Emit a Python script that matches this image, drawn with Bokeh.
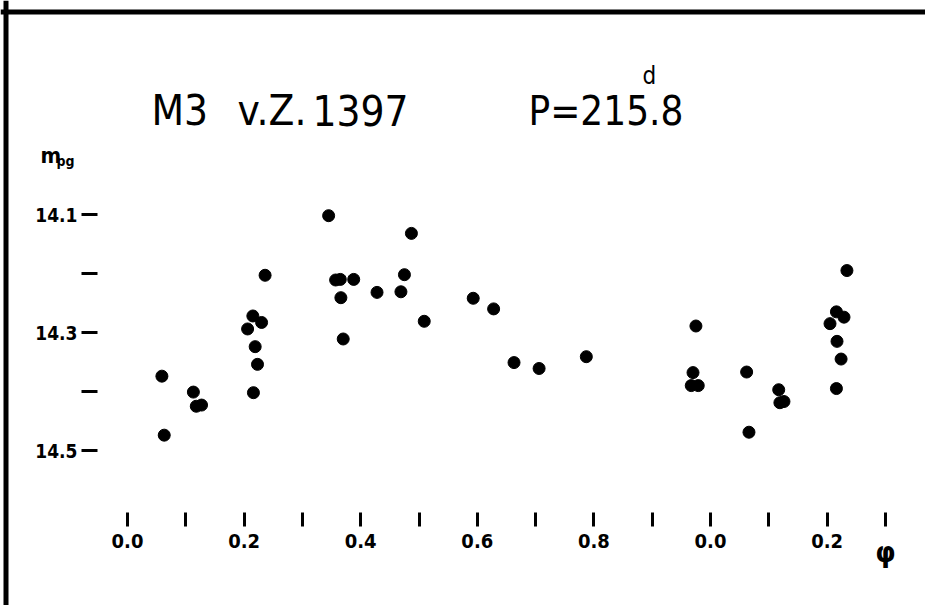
from bokeh.plotting import figure
from bokeh.models import Range1d, FixedTicker, Label, Span
from bokeh.embed import file_html
from bokeh.resources import INLINE

# ---- data (phase, photographic magnitude) ----
phase = [0.059, 0.063, 0.113, 0.118, 0.127, 0.206, 0.215, 0.216, 0.219, 0.223,
         0.230, 0.236, 0.345, 0.357, 0.365, 0.366, 0.370, 0.388, 0.428, 0.469,
         0.475, 0.487, 0.509, 0.593, 0.628, 0.663, 0.706, 0.787, 0.967, 0.970,
         0.975, 0.979, 1.062, 1.066, 1.117, 1.119, 1.126, 1.205, 1.216, 1.216,
         1.217, 1.224, 1.229, 1.234]
mag = [14.374, 14.474, 14.401, 14.425, 14.423, 14.294, 14.272, 14.402, 14.324, 14.354,
       14.283, 14.203, 14.102, 14.211, 14.210, 14.241, 14.311, 14.210, 14.232, 14.231,
       14.202, 14.132, 14.281, 14.242, 14.260, 14.351, 14.361, 14.341, 14.390, 14.368,
       14.289, 14.390, 14.367, 14.469, 14.397, 14.419, 14.417, 14.285, 14.265, 14.395,
       14.315, 14.345, 14.274, 14.195]

x_ticks = [0.0, 0.1, 0.2, 0.3, 0.4, 0.5, 0.6, 0.7, 0.8, 0.9, 1.0, 1.1, 1.2, 1.3]
x_labels = ["0.0", "", "0.2", "", "0.4", "", "0.6", "", "0.8", "", "0.0", "", "0.2", ""]
y_ticks = [14.1, 14.2, 14.3, 14.4, 14.5]
y_labels = ["14.1", "", "14.3", "", "14.5"]
x_axis_symbol = "φ"

title_star = "M3"
title_name = "v.Z."
title_number = "1397"
title_period = "P=215.8"
title_sup = "d"

FONT = "DejaVu Sans Condensed"

# page-pixel -> data helpers (for placement of axes / texts only)
def px_x(px):
    return (px - 127.0) / 583.0

def px_y(py):
    return 14.1 + (py - 214.0) / 590.0

W, H = 925, 605
p = figure(width=W, height=H, output_backend="svg", toolbar_location=None,
           x_range=Range1d(px_x(0), px_x(W)),
           y_range=Range1d(px_y(H), px_y(0)),
           min_border=0)
p.outline_line_color = None
p.grid.visible = False
p.background_fill_color = "white"
p.border_fill_color = "white"

# x axis, drawn at a fixed place inside the canvas
xa = p.xaxis[0]
xa.fixed_location = px_y(512)
xa.ticker = FixedTicker(ticks=x_ticks)
xa.major_label_overrides = dict(zip(x_ticks, x_labels))
xa.axis_line_color = None
xa.major_tick_in = 0
xa.major_tick_out = 14
xa.major_tick_line_width = 3
xa.major_tick_line_color = "black"
xa.minor_tick_line_color = None
xa.major_label_standoff = 7
xa.major_label_text_font = FONT
xa.major_label_text_font_style = "bold"
xa.major_label_text_font_size = "20px"
xa.major_label_text_color = "black"

# y axis
ya = p.yaxis[0]
ya.fixed_location = px_x(97)
ya.ticker = FixedTicker(ticks=y_ticks)
ya.major_label_overrides = dict(zip(y_ticks, y_labels))
ya.axis_line_color = None
ya.major_tick_in = 0
ya.major_tick_out = 16
ya.major_tick_line_width = 3
ya.major_tick_line_color = "black"
ya.minor_tick_line_color = None
ya.major_label_standoff = 4
ya.major_label_text_font = FONT
ya.major_label_text_font_style = "bold"
ya.major_label_text_font_size = "19px"
ya.major_label_text_color = "black"
ya.major_label_orientation = "horizontal"

# points
p.scatter(phase, mag, size=12, color="black", line_color="black")

# frame border (scan edge)
p.add_layout(Span(location=px_x(5.5), dimension="height", line_color="black", line_width=5))
p.add_layout(Span(location=px_y(11.5), dimension="width", line_color="black", line_width=5))

# texts
def lab(xp, yp, text, size, style="normal", align="left"):
    p.add_layout(Label(x=px_x(xp), y=px_y(yp), text=text, text_font=FONT,
                       text_font_size=size, text_font_style=style, text_color="black",
                       text_baseline="alphabetic", text_align=align))

lab(151, 110, title_star, "42px")
lab(237, 110, title_name, "42px")
lab(312, 110, title_number, "42px")
lab(528, 110, title_period, "40px")
lab(642, 75, title_sup, "24px")
lab(40, 155, "m", "22px", "bold")
lab(56, 160, "pg", "14px", "bold")
# phase symbol under the last x tick
p.add_layout(Label(x=x_ticks[-1], y=px_y(551), text=x_axis_symbol, text_font=FONT,
                   text_font_size="29px", text_font_style="bold", text_color="black",
                   text_baseline="alphabetic", text_align="center"))

open("out.html", "w").write(file_html(p, INLINE))
